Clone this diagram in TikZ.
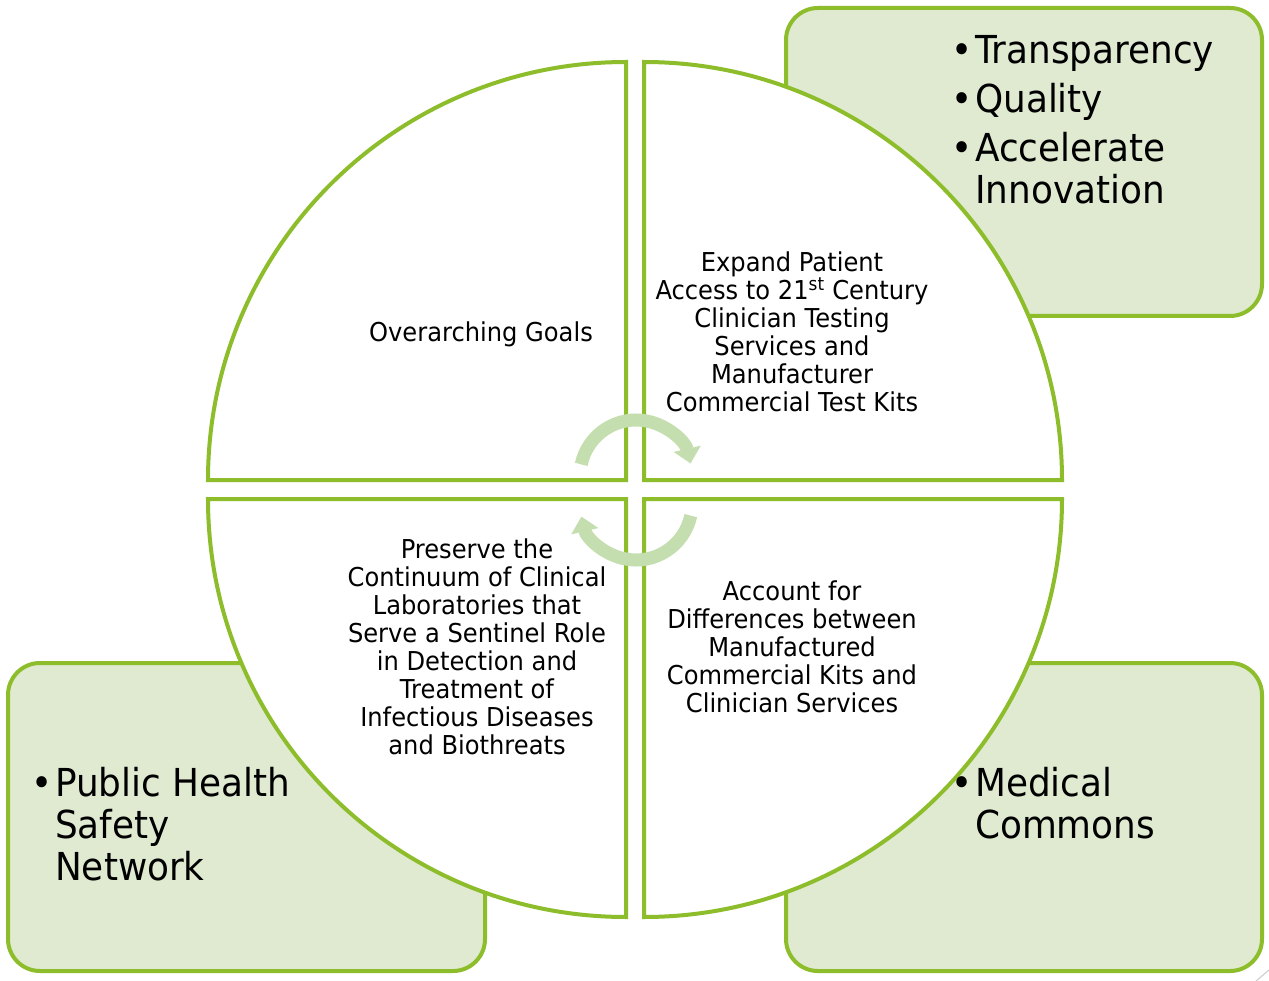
\documentclass[tikz,border=0pt]{standalone}
\usepackage{fontspec}
\setmainfont{DejaVu Sans}[FakeStretch=0.93]
\usetikzlibrary{arrows.meta}
\definecolor{lgreen}{HTML}{8DBD2A}
\definecolor{boxfill}{HTML}{DFEAD1}
\definecolor{arrowc}{HTML}{C5DEB0}
\begin{document}
\begin{tikzpicture}[x=1pt,y=-1pt,
  boxshape/.style={draw=lgreen, line width=4pt, fill=boxfill, rounded corners=32pt},
  wedge/.style={draw=lgreen, line width=4pt, fill=white, line join=miter},
  smalltxt/.style={font=\fontsize{26}{28}\selectfont, align=center, inner sep=0pt, anchor=north},
  bigtxt/.style={font=\fontsize{38.5}{42}\selectfont, align=left, inner sep=0pt, anchor=north west},
  cyc/.style={draw=arrowc, line width=13pt, -{Triangle[width=27pt,length=15pt]}}
]
\useasboundingbox (0,0) rectangle (1269,981);
\fill[white] (0,0) rectangle (1269,981);
% boxes
\draw[boxshape] (786,8) rectangle (1262,316);
\draw[boxshape] (8,663) rectangle (485,971);
\draw[boxshape] (786,663) rectangle (1262,971);
% wedges
\draw[wedge] (626,480) -- (208,480) arc[start angle=180, end angle=270, radius=418] -- cycle;
\draw[wedge] (644,480) -- (644,62) arc[start angle=270, end angle=360, radius=418] -- cycle;
\draw[wedge] (644,499) -- (1062,499) arc[start angle=0, end angle=90, radius=418] -- cycle;
\draw[wedge] (626,499) -- (626,917) arc[start angle=90, end angle=180, radius=418] -- cycle;
% cycle arrows
\coordinate (ctop) at (636,476);
\coordinate (cbot) at (636,504);
\draw[cyc] ([shift={(192:56)}]ctop) arc[start angle=192, end angle=347, radius=56];
\draw[cyc] ([shift={(12:56)}]cbot) arc[start angle=12, end angle=167, radius=56];
% quadrant texts
\node[smalltxt] (tl) at (481,320) {\rule{0pt}{21pt}Overarching Goals};
\node[smalltxt] (tr) at (792,250) {\rule{0pt}{21pt}Expand Patient\\Access to 21\textsuperscript{st} Century\\Clinician Testing\\Services and\\Manufacturer\\Commercial Test Kits};
\node[smalltxt] (bl) at (477,537) {\rule{0pt}{21pt}Preserve the\\Continuum of Clinical\\Laboratories that\\Serve a Sentinel Role\\in Detection and\\Treatment of\\Infectious Diseases\\and Biothreats};
\node[smalltxt] (br) at (792,579) {\rule{0pt}{21pt}Account for\\Differences between\\Manufactured\\Commercial Kits and\\Clinician Services};
% box texts
\node[bigtxt] (trb) at (975,33) {\rule{0pt}{30pt}\llap{•\kern3pt}Transparency\\[7pt]\llap{•\kern3pt}Quality\\[7pt]\llap{•\kern3pt}Accelerate\\Innovation};
\node[bigtxt] (blb) at (55,766) {\rule{0pt}{30pt}\llap{•\kern3pt}Public Health\\Safety\\Network};
\node[bigtxt] (brb) at (975,766) {\rule{0pt}{30pt}\llap{•\kern3pt}Medical\\Commons};
\draw[gray!40, line width=1pt] (1256,981) -- (1269,970);
\end{tikzpicture}
\end{document}
